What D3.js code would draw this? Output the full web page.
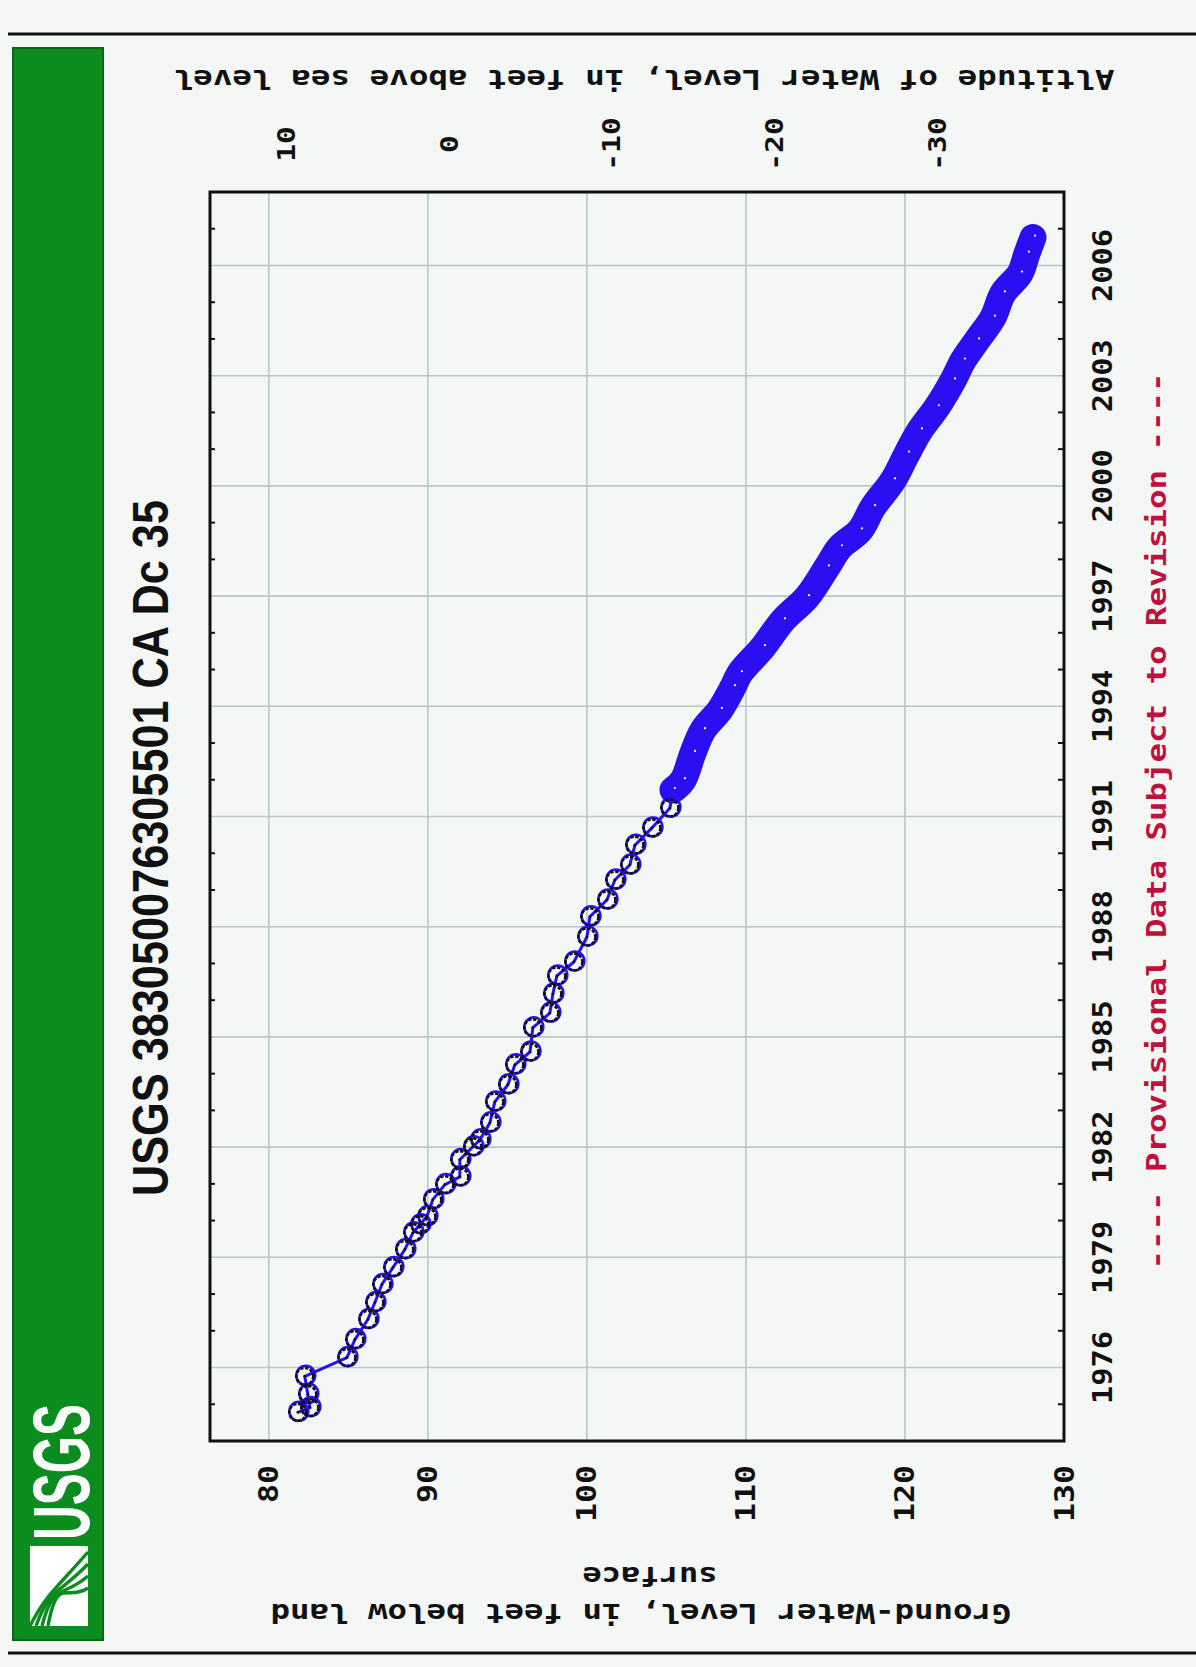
<!DOCTYPE html>
<html>
<head>
<meta charset="utf-8">
<script src="https://cdn.jsdelivr.net/npm/d3@7"></script>
<style>
  html, body { margin: 0; padding: 0; background: #f4f7f6; }
  svg { display: block; }
</style>
</head>
<body>
<svg id="chart" width="1196" height="1667"></svg>
<script>
// Well 383050076305501 CA Dc 35 - depth to water, feet below land surface

// Periodic field measurements (decimal year, depth in feet)
const fieldYears  = [1974.78, 1974.91, 1975.27, 1975.76, 1976.27, 1976.76, 1977.31, 1977.77, 1978.26, 1978.72,
                     1979.21, 1979.67, 1979.89, 1980.11, 1980.57, 1980.98, 1981.19, 1981.66, 1982.01, 1982.20,
                     1982.66, 1983.23, 1983.70, 1984.24, 1984.59, 1985.25, 1985.65, 1986.17, 1986.66, 1987.04,
                     1987.72, 1988.27, 1988.73, 1989.27, 1989.68, 1990.22, 1990.69, 1991.23];
const fieldDepths = [81.82, 82.58, 82.45, 82.26, 84.91, 85.41, 86.23, 86.67, 87.11, 87.80,
                     88.55, 89.06, 89.50, 89.94, 90.31, 91.07, 92.01, 92.01, 92.83, 93.27,
                     93.90, 94.21, 95.03, 95.47, 96.42, 96.60, 97.67, 97.86, 98.11, 99.18,
                     100.00, 100.19, 101.26, 101.76, 102.70, 103.02, 104.09, 105.22];

// Continuous record, 1991 onward (decimal year, depth in feet)
const recordYears  = [1991.72, 1991.99, 1992.73, 1993.35, 1993.90, 1994.52, 1994.90, 1995.61, 1996.34, 1996.97,
                      1997.78, 1998.33, 1998.79, 1999.42, 2000.15, 2000.88, 2001.51, 2002.14, 2002.87, 2003.41,
                      2003.96, 2004.58, 2005.24, 2005.78, 2006.32, 2006.76];
const recordDepths = [105.41, 106.04, 106.67, 107.30, 108.36, 109.18, 109.62, 111.07, 112.33, 113.84,
                      115.09, 115.91, 117.17, 117.99, 119.25, 120.13, 120.94, 122.01, 123.02, 123.65,
                      124.53, 125.53, 126.16, 127.23, 127.67, 128.05];

const depthTicks    = [80, 90, 100, 110, 120, 130];
const altitudeTicks = [10, 0, -10, -20, -30];
const yearTicks     = [1976, 1979, 1982, 1985, 1988, 1991, 1994, 1997, 2000, 2003, 2006];
const minorYears    = d3.range(1975, 2008);

const titleText   = "USGS 383050076305501 CA Dc 35";
const leftTitle1  = "Ground-Water Level, in feet below land";
const leftTitle2  = "surface";
const rightTitle  = "Altitude of Water Level, in feet above sea level";
const footnote    = "---- Provisional Data Subject to Revision ----";

const svg = d3.select("#chart");
const W = 1196, H = 1667;
const box = { left: 210, right: 1064, top: 192, bottom: 1441 };

const BLUE = "#2a0ff2";
const MONO = "'DejaVu Sans Mono', monospace";

// The page is laid out sideways: depth runs left-to-right, time runs bottom-to-top.
const depth = d3.scaleLinear().domain([76.3, 130]).range([box.left, box.right]);
const altitude = d3.scaleLinear().domain([14.7, -37.8]).range([box.left, box.right]);
const time = d3.scaleLinear().domain([1974, 2008]).range([box.bottom, box.top]);

svg.append("rect").attr("width", W).attr("height", H).attr("fill", "#f4f7f6");

// Frame rules across the page
svg.append("line").attr("x1", 8).attr("x2", W).attr("y1", 34).attr("y2", 34)
  .attr("stroke", "#111").attr("stroke-width", 3);
svg.append("line").attr("x1", 8).attr("x2", W).attr("y1", 1653).attr("y2", 1653)
  .attr("stroke", "#111").attr("stroke-width", 3);

// Green banner with agency mark
const banner = svg.append("g");
banner.append("rect").attr("x", 13).attr("y", 48).attr("width", 90).attr("height", 1592)
  .attr("fill", "#0c8c1e").attr("stroke", "#05690f").attr("stroke-width", 2);
banner.append("text")
  .attr("transform", "translate(89,1540) rotate(-90)")
  .attr("font-family", "'Liberation Sans', Arial, sans-serif")
  .attr("font-weight", "bold").attr("font-size", 80)
  .attr("fill", "#ffffff")
  .attr("textLength", 136).attr("lengthAdjust", "spacingAndGlyphs")
  .text("USGS");
const mark = banner.append("g");
mark.append("rect").attr("x", 30).attr("y", 1546).attr("width", 58).attr("height", 80).attr("fill", "#ffffff");
[0, 1, 2, 3].forEach(i => {
  mark.append("path")
    .attr("d", `M${30 + i * 6},1626 C${45 + i * 4},${1596 - i * 7} ${55 + i * 4},${1590 + i * 4} ${88},${1552 + i * 12}`)
    .attr("fill", "none").attr("stroke", "#0c8c1e").attr("stroke-width", 3.4);
});

// Title, reading bottom to top
svg.append("text")
  .attr("transform", `translate(168,${(500 + 1196) / 2}) rotate(-90)`)
  .attr("text-anchor", "middle")
  .attr("font-family", "'Liberation Sans', Arial, sans-serif")
  .attr("font-weight", "bold").attr("font-size", 50)
  .attr("fill", "#111")
  .attr("textLength", 696).attr("lengthAdjust", "spacingAndGlyphs")
  .text(titleText);

// Plot grid
const plot = svg.append("g");
plot.selectAll("line.vgrid").data(depthTicks).join("line")
  .attr("class", "vgrid")
  .attr("x1", d => depth(d)).attr("x2", d => depth(d))
  .attr("y1", box.top).attr("y2", box.bottom)
  .attr("stroke", "#bcc6c4").attr("stroke-width", 1.6);
plot.selectAll("line.hgrid").data(yearTicks).join("line")
  .attr("class", "hgrid")
  .attr("x1", box.left).attr("x2", box.right)
  .attr("y1", d => time(d)).attr("y2", d => time(d))
  .attr("stroke", "#bcc6c4").attr("stroke-width", 1.6);

// Yearly minor ticks on both time edges
const minor = minorYears.filter(y => !yearTicks.includes(y));
plot.selectAll("line.tickL").data(minor).join("line")
  .attr("x1", box.left).attr("x2", box.left + 5)
  .attr("y1", d => time(d)).attr("y2", d => time(d))
  .attr("stroke", "#111").attr("stroke-width", 2);
plot.selectAll("line.tickR").data(minor).join("line")
  .attr("x1", box.right - 6).attr("x2", box.right)
  .attr("y1", d => time(d)).attr("y2", d => time(d))
  .attr("stroke", "#111").attr("stroke-width", 2);

// Data
const field = fieldYears.map((y, i) => ({ year: y, depth: fieldDepths[i] }));
const record = recordYears.map((y, i) => ({ year: y, depth: recordDepths[i] }));
const all = field.concat(record);
const line = d3.line().x(d => depth(d.depth)).y(d => time(d.year));
const smooth = d3.line().x(d => depth(d.depth)).y(d => time(d.year)).curve(d3.curveCatmullRom);

const data = svg.append("g");
data.append("path").datum(all).attr("d", line)
  .attr("fill", "none").attr("stroke", BLUE).attr("stroke-width", 3);
data.append("path").datum(record).attr("d", smooth)
  .attr("fill", "none").attr("stroke", BLUE).attr("stroke-width", 27)
  .attr("stroke-linejoin", "round").attr("stroke-linecap", "round");
data.selectAll("circle.rec").data(record).join("circle")
  .attr("cx", d => depth(d.depth)).attr("cy", d => time(d.year)).attr("r", 10.5)
  .attr("fill", "none").attr("stroke", BLUE).attr("stroke-width", 3);
data.selectAll("circle.rin").data(record).join("circle")
  .attr("cx", d => depth(d.depth) + 2).attr("cy", d => time(d.year) - 2).attr("r", 1.1)
  .attr("fill", "#ffffff");
data.selectAll("circle.fb").data(field).join("circle")
  .attr("cx", d => depth(d.depth) + 1).attr("cy", d => time(d.year) - 1).attr("r", 9.5)
  .attr("fill", "none").attr("stroke", BLUE).attr("stroke-width", 2.5);
data.selectAll("circle.fk").data(field).join("circle")
  .attr("cx", d => depth(d.depth)).attr("cy", d => time(d.year)).attr("r", 8.5)
  .attr("fill", "none").attr("stroke", "#111").attr("stroke-width", 2.6)
  .attr("stroke-dasharray", "3.5 1.5");
data.selectAll("circle.fc").data(field).join("circle")
  .attr("cx", d => depth(d.depth)).attr("cy", d => time(d.year)).attr("r", 1.3)
  .attr("fill", "#111");

// Plot frame
svg.append("rect")
  .attr("x", box.left).attr("y", box.top)
  .attr("width", box.right - box.left).attr("height", box.bottom - box.top)
  .attr("fill", "none").attr("stroke", "#111").attr("stroke-width", 3);

function mono(g, str, tx, ty, rot, anchor, pitch, size, color) {
  return g.append("text")
    .attr("transform", `translate(${tx},${ty}) rotate(${rot})`)
    .attr("text-anchor", anchor)
    .attr("font-family", MONO).attr("font-weight", "bold")
    .attr("font-size", size).attr("fill", color || "#111")
    .attr("textLength", str.length * pitch).attr("lengthAdjust", "spacingAndGlyphs")
    .text(str);
}

const labels = svg.append("g");
// Time labels along the right edge
yearTicks.forEach(y => mono(labels, String(y), 1112, time(y), -90, "middle", 18.3, 26));
// Depth labels along the bottom edge
depthTicks.forEach(d => mono(labels, String(d), depth(d) + 9.5, 1465, -90, "end", 19, 26));
// Altitude labels along the top edge
altitudeTicks.forEach(a => mono(labels, String(a), altitude(a) + 8.5, 144, -90, "middle", 17.8, 25));

// Axis titles (upside down, as on the sideways page)
mono(labels, rightTitle, 644, 70, 180, "middle", 19.6, 27);
mono(labels, leftTitle1, 641, 1604, 180, "middle", 19.5, 27);
mono(labels, leftTitle2, 650, 1567, 180, "middle", 19.3, 27);

// Footnote
mono(labels, footnote, 1166, 821, -90, "middle", 19.5, 26, "#c0103c");
</script>
</body>
</html>
